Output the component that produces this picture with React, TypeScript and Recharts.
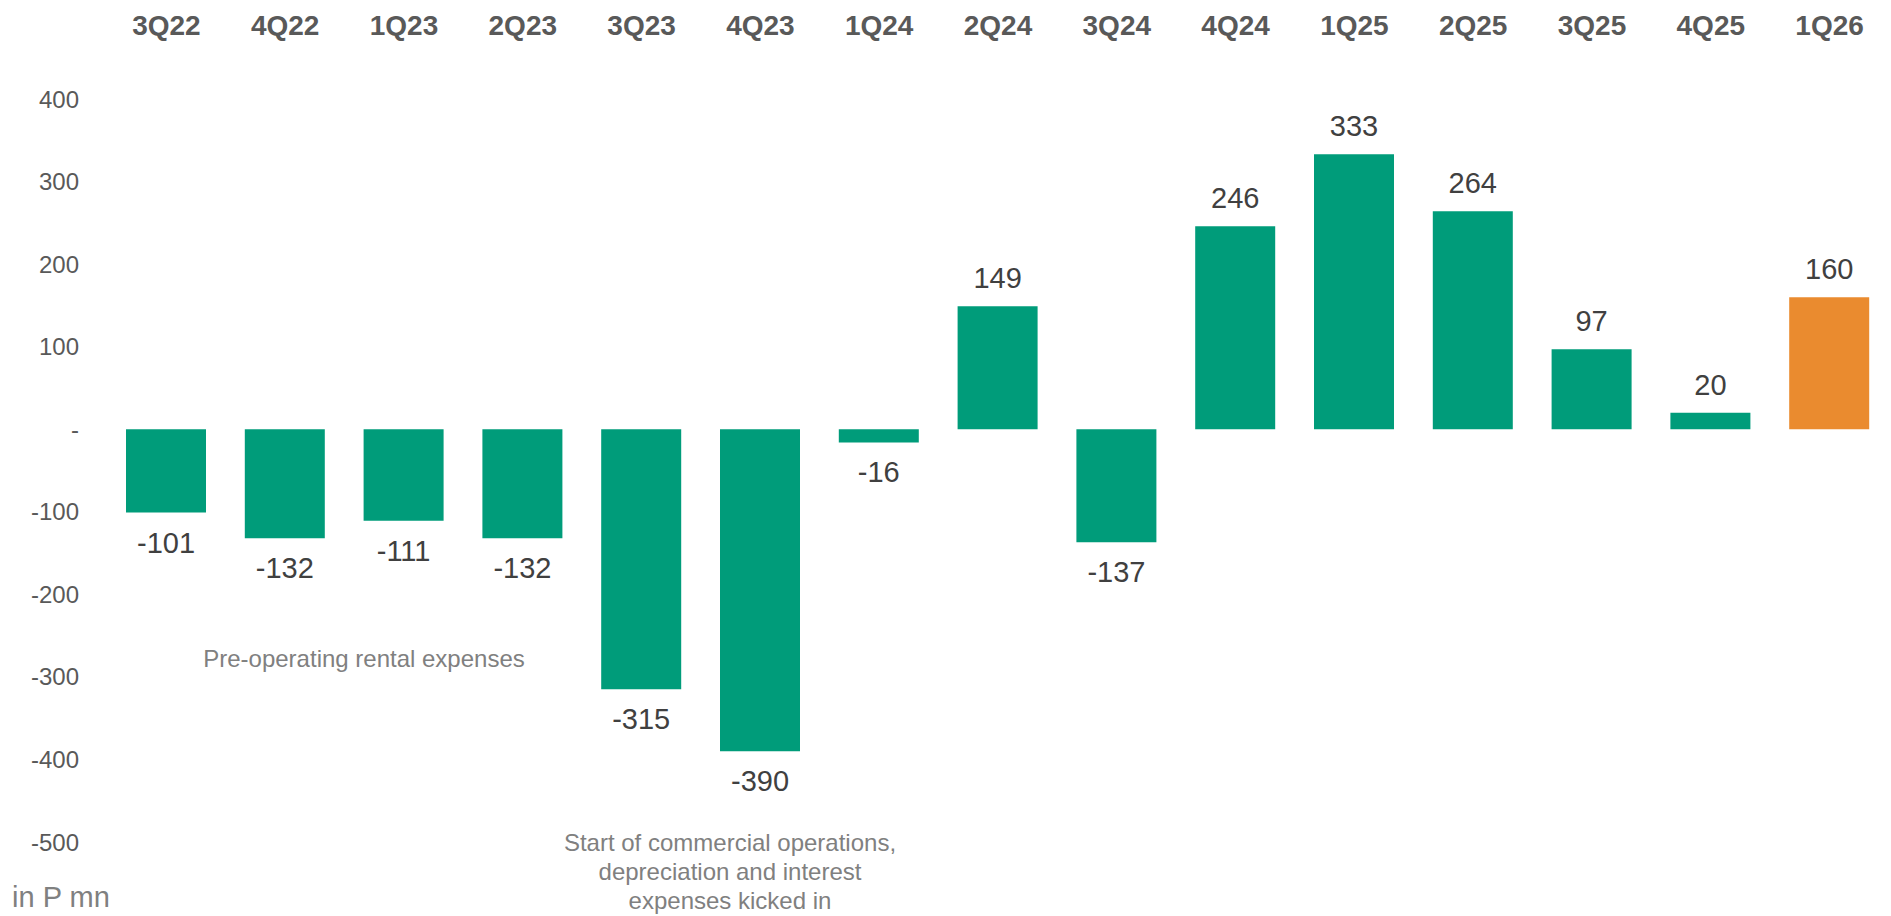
import React from "react";
import { BarChart, Bar, XAxis, YAxis, Cell, LabelList } from "recharts";

const quarters = ["3Q22", "4Q22", "1Q23", "2Q23", "3Q23", "4Q23", "1Q24", "2Q24", "3Q24", "4Q24", "1Q25", "2Q25", "3Q25", "4Q25", "1Q26"];
const values = [-101, -132, -111, -132, -315, -390, -16, 149, -137, 246, 333, 264, 97, 20, 160];
const highlight = [false, false, false, false, false, false, false, false, false, false, false, false, false, false, true];
const yTicks = [-500, -400, -300, -200, -100, 0, 100, 200, 300, 400];

const GREEN = "#009C7A";
const ORANGE = "#EA8B2F";
const FONT = "'Liberation Sans', Arial, sans-serif";

const data = quarters.map((q, i) => ({ q, v: values[i], hl: highlight[i] }));

const ValueLabel = (props: any) => {
  const { x, y, width, height, value } = props;
  const top = Math.min(y, y + height);
  const bottom = Math.max(y, y + height);
  const cx = x + width / 2;
  const ty = value >= 0 ? top - 18 : bottom + 40;
  return (
    <text x={cx} y={ty} textAnchor="middle" fontSize={29} fill="#404040" fontFamily={FONT}>
      {value}
    </text>
  );
};

export default function App() {
  return (
    <div style={{ position: "absolute", left: 0, top: 0, width: 1891, height: 916, fontFamily: FONT, background: "#fff" }}>
      <BarChart
        width={1891}
        height={916}
        data={data}
        margin={{ top: 0, right: 2, bottom: 74, left: 0 }}
      >
        <XAxis
          dataKey="q"
          orientation="top"
          height={99}
          axisLine={false}
          tickLine={false}
          tickSize={0}
          tickMargin={64}
          interval={0}
          tick={{ fontSize: 28, fontWeight: 700, fill: "#595959", fontFamily: FONT }}
        />
        <YAxis
          width={107}
          domain={[-500, 400]}
          ticks={yTicks}
          axisLine={false}
          tickLine={false}
          tickSize={0}
          tickMargin={28}
          interval={0}
          tickFormatter={(v: number) => (v === 0 ? "-" : String(v))}
          tick={{ fontSize: 24, fill: "#595959", fontFamily: FONT }}
        />
        <Bar dataKey="v" barSize={80} isAnimationActive={false}>
          {data.map((d, i) => (
            <Cell key={i} fill={d.hl ? ORANGE : GREEN} />
          ))}
          <LabelList dataKey="v" content={ValueLabel} />
        </Bar>
      </BarChart>
      <svg width={1891} height={916} style={{ position: "absolute", left: 0, top: 0, pointerEvents: "none" }}>
        <text x={364} y={667} textAnchor="middle" fontSize={24} fill="#808080" fontFamily={FONT}>
          Pre-operating rental expenses
        </text>
        <text textAnchor="middle" fontSize={24} fill="#808080" fontFamily={FONT}>
          <tspan x={730} y={851}>Start of commercial operations,</tspan>
          <tspan x={730} y={880}>depreciation and interest</tspan>
          <tspan x={730} y={909}>expenses kicked in</tspan>
        </text>
        <text x={12} y={907} fontSize={29} fill="#808080" fontFamily={FONT}>
          in P mn
        </text>
      </svg>
    </div>
  );
}
